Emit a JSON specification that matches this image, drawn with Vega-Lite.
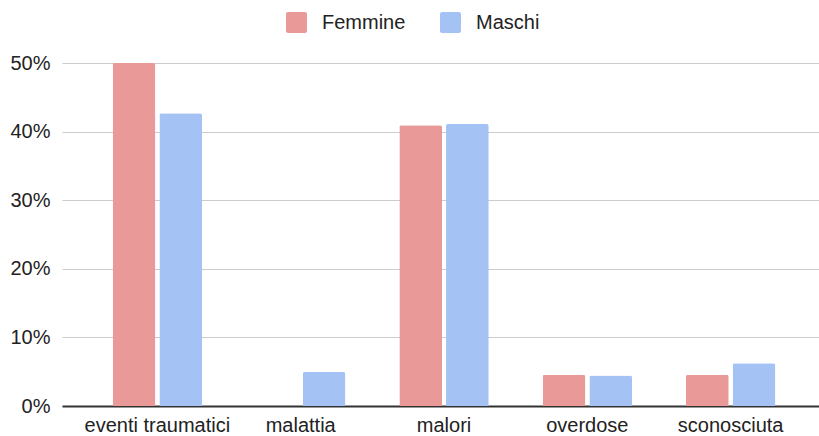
{
  "$schema": "https://vega.github.io/schema/vega-lite/v6.json",
  "autosize": "none",
  "width": 757,
  "height": 343,
  "padding": {"left": 62, "top": 63, "right": 0, "bottom": 30},
  "background": "#ffffff",
  "config": {
    "view": {"stroke": null},
    "font": "Liberation Sans"
  },
  "data": {
    "values": [
      {"causa": "eventi traumatici", "sesso": "Femmine", "valore": 0.5},
      {"causa": "eventi traumatici", "sesso": "Maschi", "valore": 0.4266},
      {"causa": "malattia", "sesso": "Femmine", "valore": 0},
      {"causa": "malattia", "sesso": "Maschi", "valore": 0.0495},
      {"causa": "malori", "sesso": "Femmine", "valore": 0.4091},
      {"causa": "malori", "sesso": "Maschi", "valore": 0.411},
      {"causa": "overdose", "sesso": "Femmine", "valore": 0.0455},
      {"causa": "overdose", "sesso": "Maschi", "valore": 0.0444},
      {"causa": "sconosciuta", "sesso": "Femmine", "valore": 0.0455},
      {"causa": "sconosciuta", "sesso": "Maschi", "valore": 0.0623}
    ]
  },
  "mark": {"type": "bar", "cornerRadiusTopLeft": 2, "cornerRadiusTopRight": 2},
  "encoding": {
    "x": {
      "field": "causa",
      "type": "nominal",
      "sort": null,
      "title": null,
      "scale": {"paddingInner": 0.3763, "paddingOuter": 0.3289, "align": 0.5374},
      "axis": {
        "labelAngle": 0,
        "labelFontSize": 20,
        "labelColor": "#222222",
        "labelPadding": 9,
        "ticks": false,
        "domain": true,
        "domainColor": "#333333",
        "domainWidth": 2,
        "grid": false
      }
    },
    "xOffset": {
      "field": "sesso",
      "type": "nominal",
      "scale": {"paddingInner": 0.0857, "paddingOuter": 0}
    },
    "y": {
      "field": "valore",
      "type": "quantitative",
      "title": null,
      "scale": {"domain": [0, 0.5], "nice": false},
      "axis": {
        "values": [0, 0.1, 0.2, 0.3, 0.4, 0.5],
        "format": ".0%",
        "labelFontSize": 20,
        "labelColor": "#222222",
        "labelPadding": 12,
        "ticks": false,
        "domain": false,
        "gridColor": "#cccccc",
        "gridWidth": 1
      }
    },
    "color": {
      "field": "sesso",
      "type": "nominal",
      "scale": {"domain": ["Femmine", "Maschi"], "range": ["#EA9999", "#A4C2F4"]},
      "legend": {
        "title": null,
        "orient": "none",
        "direction": "horizontal",
        "legendX": 224,
        "legendY": -51,
        "symbolType": "M-0.8,-1H0.8Q1,-1 1,-0.8V0.8Q1,1 0.8,1H-0.8Q-1,1 -1,0.8V-0.8Q-1,-1 -0.8,-1Z",
        "symbolSize": 441,
        "symbolStrokeWidth": 0,
        "labelFontSize": 20,
        "labelColor": "#222222",
        "labelOffset": 15,
        "columnPadding": 34
      }
    }
  }
}
